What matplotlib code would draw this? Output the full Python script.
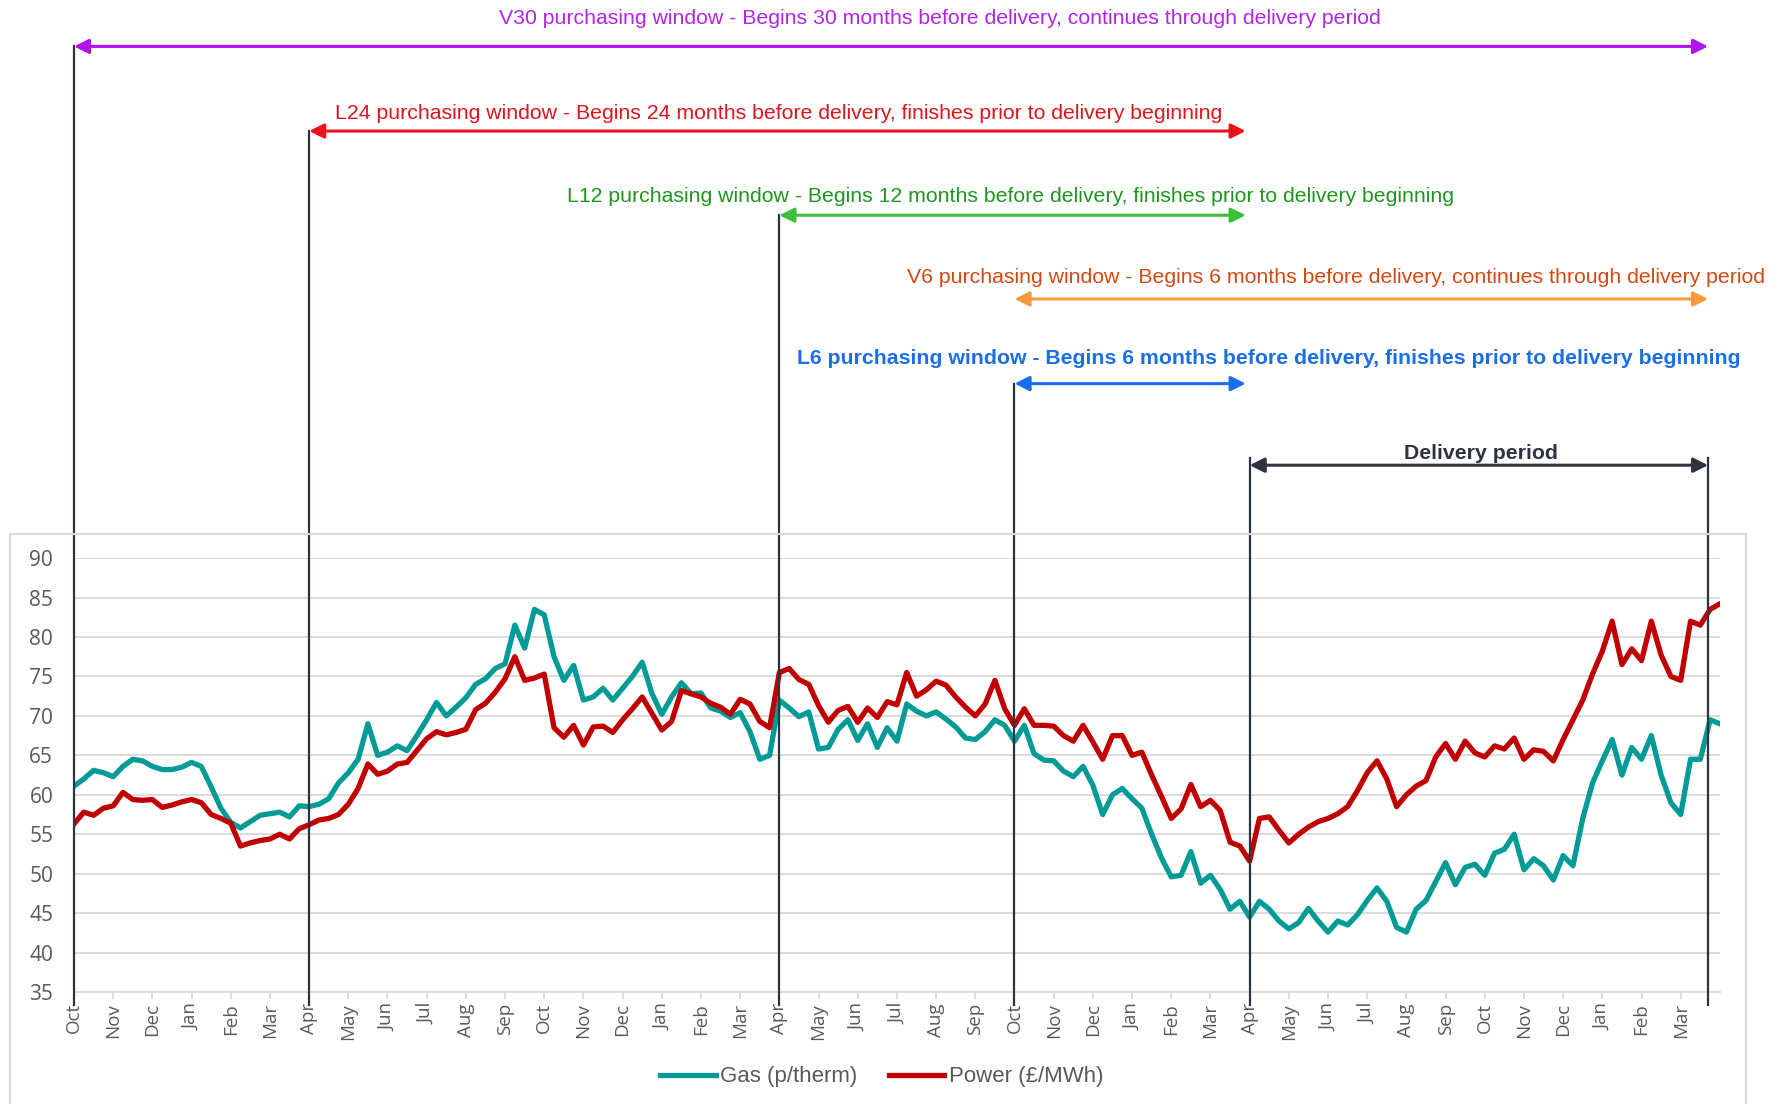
import matplotlib.pyplot as plt
import numpy as np
from matplotlib.patches import Rectangle

# month labels on the category axis (Oct start, 42 months)
months = ['Oct', 'Nov', 'Dec', 'Jan', 'Feb', 'Mar', 'Apr', 'May', 'Jun', 'Jul', 'Aug', 'Sep'] * 3
months = months + ['Oct', 'Nov', 'Dec', 'Jan', 'Feb', 'Mar']

# weekly-ish samples (4 per month)
gas = [
    61.1, 62.0, 63.1, 62.8, 62.3, 63.6, 64.5, 64.3, 63.6, 63.2, 63.2, 63.5, 64.1, 63.6, 61.0, 58.3,
    56.5, 55.8, 56.6, 57.4, 57.6, 57.8, 57.2, 58.6, 58.5, 58.8, 59.5, 61.5, 62.8, 64.5, 69.0, 65.0,
    65.4, 66.2, 65.6, 67.5, 69.5, 71.7, 70.0, 71.1, 72.3, 74.0, 74.7, 76.0, 76.6, 81.5, 78.6, 83.5,
    82.8, 77.5, 74.5, 76.4, 72.0, 72.4, 73.5, 72.0, 73.5, 75.0, 76.8, 72.8, 70.2, 72.4, 74.2, 72.8,
    72.9, 71.0, 70.6, 69.8, 70.4, 68.0, 64.5, 65.0, 72.0, 71.0, 69.9, 70.5, 65.8, 66.0, 68.3, 69.5,
    66.9, 69.0, 66.0, 68.5, 66.8, 71.5, 70.6, 70.0, 70.5, 69.6, 68.6, 67.2, 67.0, 68.0, 69.5, 68.8,
    66.8, 68.8, 65.2, 64.4, 64.3, 63.0, 62.3, 63.6, 61.2, 57.5, 60.0, 60.8, 59.5, 58.3, 55.0, 52.0,
    49.6, 49.8, 52.8, 48.8, 49.8, 48.0, 45.5, 46.5, 44.5, 46.5, 45.5, 44.0, 43.0, 43.8, 45.6, 44.0,
    42.6, 44.0, 43.5, 44.8, 46.6, 48.2, 46.5, 43.2, 42.6, 45.5, 46.6, 49.0, 51.4, 48.6, 50.8, 51.2,
    49.8, 52.6, 53.1, 55.0, 50.5, 51.9, 51.0, 49.2, 52.3, 51.0, 57.0, 61.5, 64.3, 67.0, 62.5, 66.0,
    64.5, 67.5, 62.5, 59.0, 57.5, 64.5, 64.5, 69.5, 69.0,
]
power = [
    56.3, 57.8, 57.4, 58.3, 58.6, 60.3, 59.4, 59.3, 59.4, 58.4, 58.7, 59.1, 59.4, 59.0, 57.5, 57.0,
    56.4, 53.5, 53.9, 54.2, 54.4, 55.0, 54.4, 55.7, 56.2, 56.8, 57.0, 57.5, 58.8, 60.8, 63.9, 62.6,
    63.0, 63.9, 64.1, 65.6, 67.1, 68.0, 67.6, 67.9, 68.3, 70.8, 71.6, 73.0, 74.7, 77.5, 74.5, 74.8,
    75.3, 68.5, 67.3, 68.8, 66.3, 68.6, 68.7, 67.9, 69.5, 70.9, 72.4, 70.3, 68.2, 69.3, 73.2, 72.8,
    72.4, 71.6, 71.1, 70.2, 72.1, 71.5, 69.3, 68.5, 75.5, 76.0, 74.6, 74.0, 71.3, 69.2, 70.7, 71.2,
    69.2, 71.0, 69.8, 71.8, 71.4, 75.5, 72.5, 73.3, 74.4, 73.9, 72.4, 71.1, 70.0, 71.5, 74.5, 70.9,
    68.8, 70.9, 68.8, 68.8, 68.7, 67.5, 66.8, 68.8, 66.7, 64.5, 67.5, 67.5, 65.0, 65.4, 62.5, 59.8,
    57.0, 58.2, 61.3, 58.5, 59.3, 58.0, 54.0, 53.5, 51.6, 57.0, 57.2, 55.5, 53.9, 55.0, 55.9, 56.6,
    57.0, 57.6, 58.5, 60.5, 62.8, 64.3, 62.0, 58.5, 60.0, 61.1, 61.8, 64.8, 66.5, 64.5, 66.8, 65.3,
    64.8, 66.2, 65.8, 67.2, 64.5, 65.7, 65.5, 64.3, 67.0, 69.5, 72.0, 75.3, 78.2, 82.0, 76.5, 78.5,
    77.0, 82.0, 77.7, 75.0, 74.5, 82.0, 81.5, 83.5, 84.2,
]

t = np.arange(len(gas)) / 4.0
END = 41.7  # end of delivery period

fig = plt.figure(figsize=(17.74, 11.04), dpi=100)
fig.patches.append(Rectangle((0.0056, -0.02), 0.9786, 0.5363, transform=fig.transFigure,
                             fill=False, edgecolor='#d9d9d9', lw=1.5))

ax = fig.add_axes([0.0417, 0.1014, 0.9278, 0.3931])
ax.plot(t, gas, color='#009b96', lw=3.8, label='Gas (p/therm)', solid_joinstyle='round')
ax.plot(t, power, color='#c00000', lw=3.8, label='Power (£/MWh)', solid_joinstyle='round')

ax.set_xlim(0, 42)
ax.set_ylim(35, 90)
ax.set_yticks(np.arange(35, 91, 5))
ax.set_xticks(np.arange(len(months)))
ax.set_xticklabels(months, rotation=90, fontsize=13.5, color='#595959', family='Open Sans')
for lab in ax.get_yticklabels():
    lab.set_family('Open Sans')
ax.tick_params(axis='y', length=0, labelsize=15, labelcolor='#595959', pad=15)
ax.tick_params(axis='x', length=5, color='#d9d9d9', width=1.3, pad=3)
ax.grid(axis='y', color='#d9d9d9', lw=1.3)
ax.set_axisbelow(True)
for s in ['top', 'right', 'left']:
    ax.spines[s].set_visible(False)
ax.spines['bottom'].set_color('#d9d9d9')
ax.spines['bottom'].set_linewidth(1.3)

tr = ax.get_xaxis_transform()

# purchasing windows: (start, end, arrow y, text, text colour, arrow colour, text x, text y, bold)
windows = [
    (0, END, 2.179, 'V30 purchasing window - Begins 30 months before delivery, continues through delivery period',
     '#b424e8', '#b014ec', 22.1, 2.244, False),
    (6, 29.9, 1.984, 'L24 purchasing window - Begins 24 months before delivery, finishes prior to delivery beginning',
     '#e0141c', '#e8141c', 17.97, 2.025, False),
    (18, 29.9, 1.790, 'L12 purchasing window - Begins 12 months before delivery, finishes prior to delivery beginning',
     '#1e961e', '#3cbf3c', 23.9, 1.832, False),
    (24, END, 1.597, 'V6 purchasing window - Begins 6 months before delivery, continues through delivery period',
     '#d44812', '#f79a3f', 32.2, 1.647, False),
    (24, 29.9, 1.402, 'L6 purchasing window - Begins 6 months before delivery, finishes prior to delivery beginning',
     '#1a6ee6', '#1a6ee6', 30.5, 1.459, True),
    (30, END, 1.214, 'Delivery period', '#2d3440', '#2d3440', 35.9, 1.240, True),
]

for x0, x1, y, txt, tc, ac, tx, ty, bold in windows:
    ax.annotate('', xy=(x1, y), xytext=(x0, y), xycoords=tr, textcoords=tr,
                arrowprops=dict(arrowstyle='<|-|>', color=ac, lw=2.2, mutation_scale=22,
                                shrinkA=0, shrinkB=0), annotation_clip=False)
    ax.text(tx, ty, txt, transform=tr, ha='center', va='center', color=tc,
            fontsize=15.3, family='Liberation Sans', fontweight='bold' if bold else 'normal',
            clip_on=False)

# vertical markers from window arrows down through the axis
markers = [(0, 2.179), (6, 1.984), (18, 1.790), (24, 1.402), (30, 1.23), (END, 1.23)]
for mx, top in markers:
    ax.plot([mx, mx], [-0.03, top], transform=tr, color='#2d3440', lw=1.6, clip_on=False, zorder=5)

leg = fig.legend(loc='center', bbox_to_anchor=(0.497, 0.0245), ncol=2, frameon=False,
                 handlelength=2.5, columnspacing=1.4, handletextpad=0.2,
                 prop={'family': 'Liberation Sans', 'size': 16})
for txt in leg.get_texts():
    txt.set_color('#595959')

fig.savefig('out.png', dpi=100)
